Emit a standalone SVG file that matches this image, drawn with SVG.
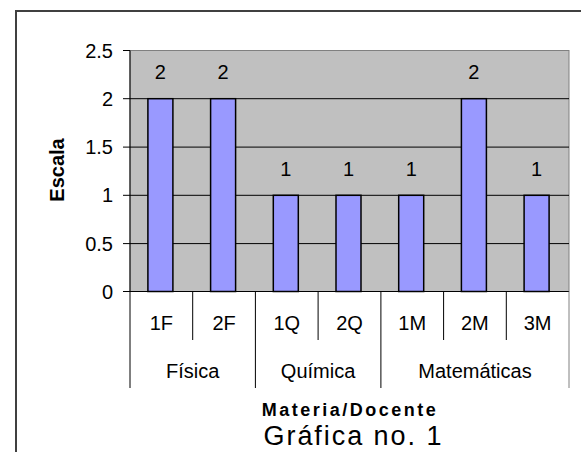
<svg xmlns="http://www.w3.org/2000/svg" width="581" height="452" viewBox="0 0 581 452">
<style>
text{font-family:"Liberation Sans",Arial,sans-serif;fill:#000}
.tick{font-size:20px;text-anchor:end}
.c{font-size:20px;text-anchor:middle}
.bar{fill:#9999FF;stroke:#000;stroke-width:1.5}
.grid{stroke:#000;stroke-width:1}
.ax{stroke:#000;stroke-width:1}
.sep{stroke:#000;stroke-width:1}
</style>
<rect x="0" y="0" width="581" height="452" fill="#fff"/>
<rect x="16" y="11" width="600" height="500" fill="#fff" stroke="#404040" stroke-width="2"/>
<g id="plot">
<rect x="130" y="50.5" width="439" height="241" fill="#C0C0C0" stroke="#808080" stroke-width="1"/>
<g class="grid">
<line x1="130" y1="98.7" x2="569" y2="98.7"/>
<line x1="130" y1="147.1" x2="569" y2="147.1"/>
<line x1="130" y1="195.3" x2="569" y2="195.3"/>
<line x1="130" y1="243.6" x2="569" y2="243.6"/>
</g>
</g>
<g id="bars">
<rect class="bar" x="147.9" y="98.7" width="25" height="192.8"/>
<rect class="bar" x="210.6" y="98.7" width="25" height="192.8"/>
<rect class="bar" x="273.3" y="195.3" width="25" height="96.2"/>
<rect class="bar" x="336" y="195.3" width="25" height="96.2"/>
<rect class="bar" x="398.7" y="195.3" width="25" height="96.2"/>
<rect class="bar" x="461.4" y="98.7" width="25" height="192.8"/>
<rect class="bar" x="524.1" y="195.3" width="25" height="96.2"/>
</g>
<g id="data-labels">
<text class="c" x="160.4" y="79">2</text>
<text class="c" x="223.1" y="79">2</text>
<text class="c" x="285.8" y="176">1</text>
<text class="c" x="348.5" y="176">1</text>
<text class="c" x="411.2" y="176">1</text>
<text class="c" x="473.9" y="79">2</text>
<text class="c" x="536.6" y="176">1</text>
</g>
<g id="y-axis">
<line class="ax" x1="130" y1="50.5" x2="130" y2="291.5"/>
<g class="ax">
<line x1="123" y1="50.5" x2="130" y2="50.5"/>
<line x1="123" y1="98.7" x2="130" y2="98.7"/>
<line x1="123" y1="147.1" x2="130" y2="147.1"/>
<line x1="123" y1="195.3" x2="130" y2="195.3"/>
<line x1="123" y1="243.6" x2="130" y2="243.6"/>
</g>
<text class="tick" x="113" y="57.5">2.5</text>
<text class="tick" x="113" y="105.7">2</text>
<text class="tick" x="113" y="154.1">1.5</text>
<text class="tick" x="113" y="202.3">1</text>
<text class="tick" x="113" y="250.6">0.5</text>
<text class="tick" x="113" y="298.5">0</text>
<text transform="translate(63.5,170) rotate(-90)" font-size="20" font-weight="bold" text-anchor="middle">Escala</text>
</g>
<g id="x-axis">
<line class="ax" x1="123" y1="291.5" x2="569" y2="291.5"/>
<g class="sep">
<line x1="130" y1="291.5" x2="130" y2="388"/>
<line x1="192.7" y1="291.5" x2="192.7" y2="340"/>
<line x1="255.4" y1="291.5" x2="255.4" y2="388"/>
<line x1="318.1" y1="291.5" x2="318.1" y2="340"/>
<line x1="380.9" y1="291.5" x2="380.9" y2="388"/>
<line x1="443.6" y1="291.5" x2="443.6" y2="340"/>
<line x1="506.3" y1="291.5" x2="506.3" y2="340"/>
<line x1="569" y1="291.5" x2="569" y2="388" stroke="#808080"/>
</g>
<text class="c" x="161.4" y="330">1F</text>
<text class="c" x="224.1" y="330">2F</text>
<text class="c" x="286.8" y="330">1Q</text>
<text class="c" x="349.5" y="330">2Q</text>
<text class="c" x="412.2" y="330">1M</text>
<text class="c" x="474.9" y="330">2M</text>
<text class="c" x="537.6" y="330">3M</text>
<text class="c" x="192.7" y="378">Física</text>
<text class="c" x="318.1" y="378">Química</text>
<text class="c" x="475" y="378">Matemáticas</text>
<text x="348.7" y="416" font-size="18" font-weight="bold" text-anchor="middle" textLength="174" lengthAdjust="spacing">Materia/Docente</text>
</g>
<g id="title">
<text x="352.5" y="445" font-size="27" text-anchor="middle" textLength="178" lengthAdjust="spacing">Gráfica no. 1</text>
</g>
</svg>
